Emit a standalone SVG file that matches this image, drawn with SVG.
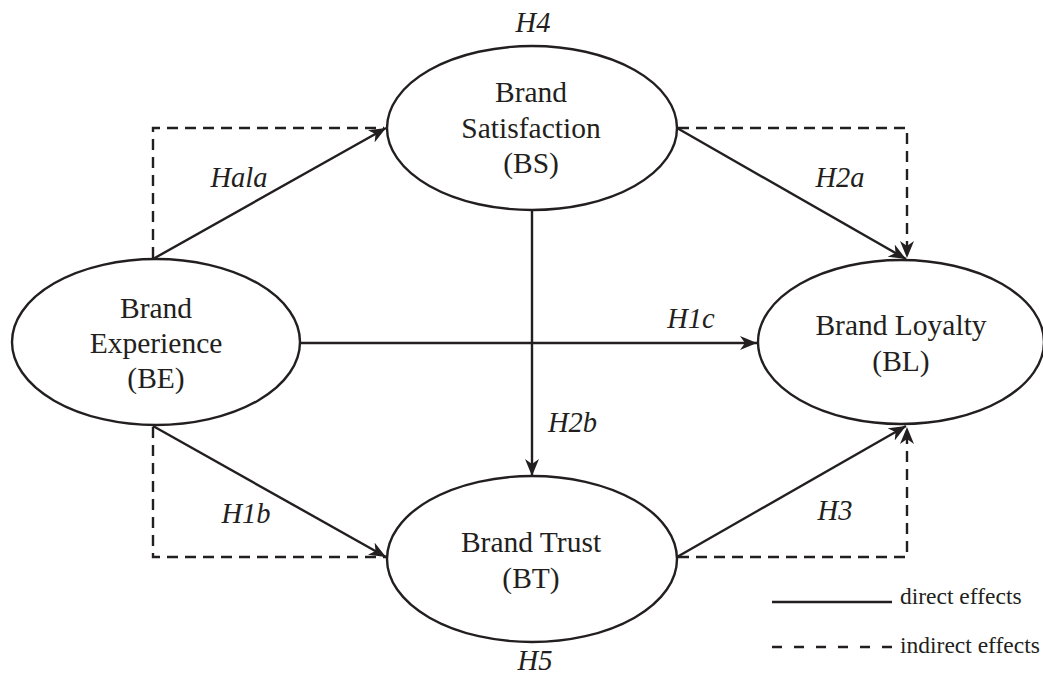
<svg xmlns="http://www.w3.org/2000/svg" width="1043" height="677" viewBox="0 0 1043 677">
<style>
.node{fill:#fff;stroke:#231f20;stroke-width:2.4}
.t{font-family:"Liberation Serif","Times New Roman",serif;font-size:29.5px;fill:#231f20;text-anchor:middle}
.h{font-family:"Liberation Serif","Times New Roman",serif;font-size:28.5px;font-style:italic;fill:#231f20}
.lg{font-family:"Liberation Serif","Times New Roman",serif;font-size:23.5px;fill:#231f20}
.solid{fill:none;stroke:#231f20;stroke-width:2.4}
.dash{fill:none;stroke:#231f20;stroke-width:2.4;stroke-dasharray:11 7}
</style>
<defs>
<marker id="arr" markerUnits="userSpaceOnUse" markerWidth="18" markerHeight="14" refX="17" refY="7" orient="auto">
<path d="M0,0 L17,7 L0,14 L5,7 Z" fill="#231f20"/>
</marker>
</defs>
<g id="connectors">
<path class="dash" d="M153 258 V128 H384"/>
<path class="dash" d="M678 128 H907 V258" marker-end="url(#arr)"/>
<path class="dash" d="M153 427 V557 H386"/>
<path class="dash" d="M678 557 H907 V427" marker-end="url(#arr)"/>
<line class="solid" x1="153" y1="259" x2="386" y2="128" marker-end="url(#arr)"/>
<line class="solid" x1="677" y1="128" x2="906" y2="259" marker-end="url(#arr)"/>
<line class="solid" x1="300" y1="343" x2="757" y2="343" marker-end="url(#arr)"/>
<line class="solid" x1="532" y1="210" x2="532" y2="476" marker-end="url(#arr)"/>
<line class="solid" x1="153" y1="426" x2="386" y2="557" marker-end="url(#arr)"/>
<line class="solid" x1="677" y1="557" x2="906" y2="426" marker-end="url(#arr)"/>
</g>
<g id="BS">
<ellipse class="node" cx="532" cy="128" rx="145" ry="82"/>
<text class="t" x="531" y="102">Brand</text>
<text class="t" x="531" y="138">Satisfaction</text>
<text class="t" x="531" y="173">(BS)</text>
</g>
<g id="BE">
<ellipse class="node" cx="156" cy="342" rx="144" ry="83"/>
<text class="t" x="156" y="318">Brand</text>
<text class="t" x="156" y="353">Experience</text>
<text class="t" x="156" y="388">(BE)</text>
</g>
<g id="BL">
<ellipse class="node" cx="901" cy="342" rx="143" ry="82"/>
<text class="t" x="901" y="335">Brand Loyalty</text>
<text class="t" x="901" y="371">(BL)</text>
</g>
<g id="BT">
<ellipse class="node" cx="532" cy="559" rx="145" ry="83"/>
<text class="t" x="531" y="552">Brand Trust</text>
<text class="t" x="531" y="588">(BT)</text>
</g>
<g id="labels">
<text class="h" x="533" y="32" text-anchor="middle">H4</text>
<text class="h" x="239" y="187" text-anchor="middle">Hala</text>
<text class="h" x="840" y="187" text-anchor="middle">H2a</text>
<text class="h" x="691" y="328" text-anchor="middle">H1c</text>
<text class="h" x="548" y="432">H2b</text>
<text class="h" x="246" y="523" text-anchor="middle">H1b</text>
<text class="h" x="835" y="520" text-anchor="middle">H3</text>
<text class="h" x="535" y="670" text-anchor="middle">H5</text>
</g>
<g id="legend">
<line class="solid" x1="772" y1="602" x2="892" y2="602"/>
<text class="lg" x="900" y="604">direct effects</text>
<line x1="772" y1="647" x2="892" y2="647" stroke="#231f20" stroke-width="2.4" stroke-dasharray="10 12"/>
<text class="lg" x="900" y="653">indirect effects</text>
</g>
</svg>
